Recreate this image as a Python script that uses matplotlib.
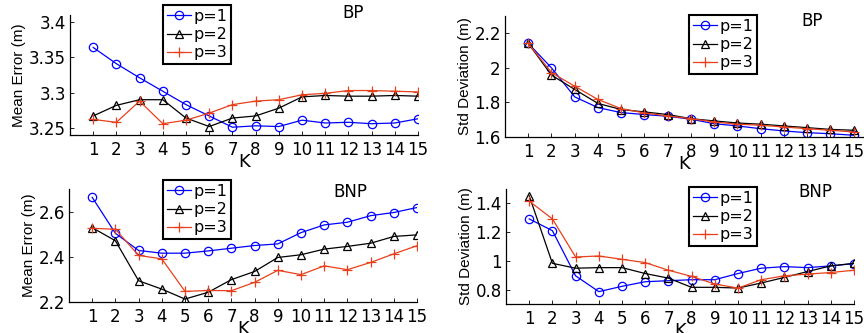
import matplotlib
matplotlib.use("Agg")
import matplotlib.pyplot as plt

plt.rcParams['font.family'] = ['DejaVu Sans']

K = list(range(1, 16))
labels = ["p=1", "p=2", "p=3"]

me_bp_p1 = [3.364, 3.341, 3.321, 3.302, 3.283, 3.267, 3.251, 3.253, 3.252, 3.261, 3.257, 3.258, 3.256, 3.257, 3.263]
me_bp_p2 = [3.267, 3.282, 3.290, 3.290, 3.264, 3.252, 3.264, 3.267, 3.278, 3.294, 3.296, 3.295, 3.295, 3.296, 3.295]
me_bp_p3 = [3.262, 3.258, 3.288, 3.256, 3.261, 3.271, 3.283, 3.288, 3.290, 3.297, 3.299, 3.303, 3.303, 3.302, 3.301]

sd_bp_p1 = [2.142, 2.000, 1.832, 1.770, 1.741, 1.730, 1.720, 1.703, 1.677, 1.664, 1.648, 1.635, 1.625, 1.619, 1.610]
sd_bp_p2 = [2.142, 1.958, 1.875, 1.794, 1.759, 1.745, 1.730, 1.706, 1.693, 1.681, 1.674, 1.664, 1.654, 1.644, 1.639]
sd_bp_p3 = [2.142, 1.972, 1.894, 1.817, 1.764, 1.739, 1.722, 1.706, 1.687, 1.674, 1.668, 1.658, 1.648, 1.639, 1.629]

me_bnp_p1 = [2.663, 2.504, 2.428, 2.416, 2.416, 2.426, 2.438, 2.450, 2.457, 2.507, 2.541, 2.553, 2.582, 2.596, 2.618]
me_bnp_p2 = [2.529, 2.471, 2.294, 2.257, 2.213, 2.243, 2.299, 2.335, 2.397, 2.409, 2.434, 2.446, 2.460, 2.490, 2.497]
me_bnp_p3 = [2.526, 2.522, 2.406, 2.391, 2.247, 2.251, 2.250, 2.287, 2.340, 2.321, 2.360, 2.343, 2.375, 2.413, 2.449]

sd_bnp_p1 = [1.292, 1.210, 0.896, 0.786, 0.823, 0.855, 0.862, 0.869, 0.869, 0.912, 0.949, 0.960, 0.953, 0.965, 0.981]
sd_bnp_p2 = [1.453, 0.983, 0.949, 0.953, 0.953, 0.912, 0.880, 0.816, 0.816, 0.811, 0.846, 0.885, 0.926, 0.965, 0.983]
sd_bnp_p3 = [1.416, 1.292, 1.027, 1.034, 1.011, 0.988, 0.935, 0.892, 0.839, 0.811, 0.869, 0.896, 0.908, 0.919, 0.935]

W, H = 864, 333
fig = plt.figure(figsize=(W / 100, H / 100), dpi=100)

def px_axes(left, top, right, bottom):
    return fig.add_axes([left / W, 1 - bottom / H, (right - left) / W, (bottom - top) / H])

colors = ['#0000ff', '#000000', '#e8401c']
markers = ['o', '^', '+']

panels = [
    dict(box=(70, 15, 418, 135), xlim=(0, 15), ylim=(3.24, 3.41), yticks=[3.25, 3.3, 3.35, 3.4],
         yticklabels=['3.25', '3.3', '3.35', '3.4'], ylabel='Mean Error (m)',
         data=[me_bp_p1, me_bp_p2, me_bp_p3], title='BP', tpos=(353, 13), leg=(163, 5)),
    dict(box=(505, 16, 863, 137), xlim=(0, 15.4), ylim=(1.6, 2.3), yticks=[1.6, 1.8, 2.0, 2.2],
         yticklabels=['1.6', '1.8', '2', '2.2'], ylabel='Std Deviation (m)',
         data=[sd_bp_p1, sd_bp_p2, sd_bp_p3], title='BP', tpos=(812, 21), leg=(689, 15)),
    dict(box=(69, 189, 417, 302), xlim=(0, 15), ylim=(2.2, 2.7), yticks=[2.2, 2.4, 2.6],
         yticklabels=['2.2', '2.4', '2.6'], ylabel='Mean Error (m)',
         data=[me_bnp_p1, me_bnp_p2, me_bnp_p3], title='BNP', tpos=(350, 192), leg=(163, 180)),
    dict(box=(506, 189, 854, 304), xlim=(0, 15), ylim=(0.7, 1.5), yticks=[0.8, 1.0, 1.2, 1.4],
         yticklabels=['0.8', '1', '1.2', '1.4'], ylabel='Std Deviation (m)',
         data=[sd_bnp_p1, sd_bnp_p2, sd_bnp_p3], title='BNP', tpos=(815, 192), leg=(689, 187)),
]

for p in panels:
    ax = px_axes(*p['box'])
    for ser, c, m, lab in zip(p['data'], colors, markers, labels):
        ax.plot(K, ser, color=c, marker=m, markersize=6 if m != '+' else 7,
                markerfacecolor='none', markeredgecolor=c, markeredgewidth=0.9,
                linewidth=0.9, label=lab)
    ax.set_xlim(*p['xlim'])
    ax.set_ylim(*p['ylim'])
    ax.set_xticks(K)
    ax.set_xticklabels([str(k) for k in K], fontsize=12)
    ax.set_yticks(p['yticks'])
    ax.set_yticklabels(p['yticklabels'], fontsize=12)
    ax.tick_params(direction='in', length=3, width=0.6, pad=3)
    ax.tick_params(axis='x', pad=4)
    for s in ['top', 'right']:
        ax.spines[s].set_visible(False)
    for s in ['left', 'bottom']:
        ax.spines[s].set_linewidth(0.9)
    ax.set_xlabel('K', fontsize=13, labelpad=-4)
    ax.set_ylabel(p['ylabel'], fontsize=11, labelpad=2, family='Liberation Sans')
    lx, ly = p['leg']
    leg = ax.legend(loc='upper left', bbox_to_anchor=(lx / W, 1 - ly / H),
                    bbox_transform=fig.transFigure, fontsize=11.5, frameon=True,
                    fancybox=False, edgecolor='black', framealpha=1,
                    handlelength=1.5, handletextpad=0.15, labelspacing=0.2,
                    borderpad=0.25, borderaxespad=0)
    leg.get_frame().set_linewidth(1.5)
    fig.text(p['tpos'][0] / W, 1 - p['tpos'][1] / H, p['title'], fontsize=12,
             ha='center', va='center')

fig.savefig('out.png', dpi=100)
